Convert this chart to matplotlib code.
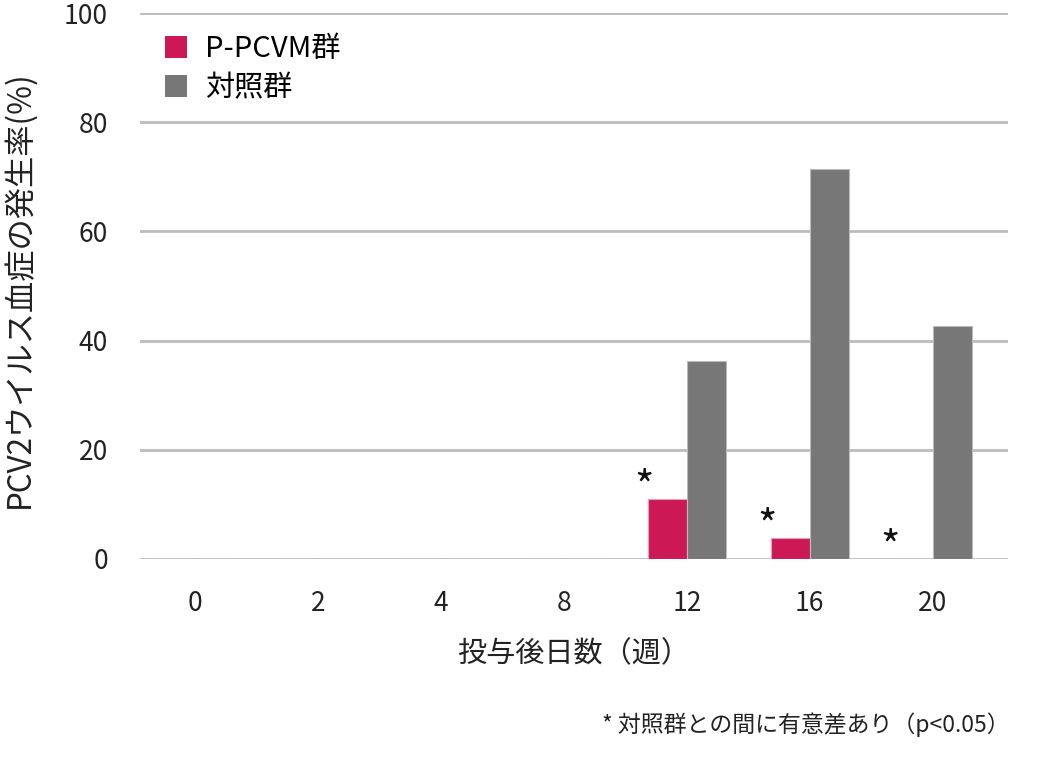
import numpy as np
import matplotlib
matplotlib.use("Agg")
from matplotlib import pyplot as plt
from matplotlib.patches import Patch

plt.rcParams['font.family'] = ['Noto Sans CJK JP', 'DejaVu Sans']

# data
weeks = ["0", "2", "4", "8", "12", "16", "20"]
ppcvm = [0, 0, 0, 0, 10.9, 3.8, 0]
control = [0, 0, 0, 0, 36.2, 71.4, 42.6]
significant = [False, False, False, False, True, True, True]

pink = "#cc1855"
grey = "#777777"

fig = plt.figure(figsize=(10.53, 7.71), dpi=100)
ax = fig.add_axes([0.133, 0.275, 0.824, 0.708])

x = np.arange(len(weeks))
w = 0.317
ax.bar(x - w/2, ppcvm, w, color=pink, edgecolor="#e7a0b8", linewidth=0.8, zorder=3)
ax.bar(x + w/2, control, w, color=grey, edgecolor="#bbbbbb", linewidth=0.8, zorder=3)

# significance marks
for i in range(len(weeks)):
    if significant[i]:
        ax.text(x[i] - w/2 - 0.19, ppcvm[i] + 2.0, "*", ha="center", va="center",
                fontsize=30, color="#111111")

ax.set_ylim(0, 100)
ax.set_xlim(-0.447, 6.61)
ax.set_yticks(range(0, 101, 20))
ax.set_xticks(x)
ax.set_xticklabels(weeks)
ax.grid(axis="y", color="#bcbcbc", linewidth=2, zorder=0)
ax.set_axisbelow(True)
for s in ax.spines.values():
    s.set_visible(False)
ax.tick_params(length=0, labelsize=19, colors="#222222")
ax.tick_params(axis="y", pad=23)
ax.tick_params(axis="x", pad=22)

ax.set_ylabel("PCV2ウイルス血症の発生率(%)", fontsize=22.5, color="#222222")
ax.yaxis.set_label_coords(-0.121, 0.495)
ax.set_xlabel("投与後日数（週）", fontsize=21, color="#222222", labelpad=16)

handles = [Patch(facecolor=pink, label="P-PCVM群"), Patch(facecolor=grey, label="対照群")]
ax.legend(handles=handles, loc="upper left", bbox_to_anchor=(-0.008, 1.02), frameon=False,
          fontsize=21, handlelength=0.75, handleheight=0.75, handletextpad=0.6,
          labelspacing=0.3, borderaxespad=0.6, borderpad=0.5)

fig.text(0.959, 0.06, "* 対照群との間に有意差あり（p<0.05）", ha="right", va="center",
         fontsize=16.5, color="#222222")

fig.savefig("out.png", dpi=100)
